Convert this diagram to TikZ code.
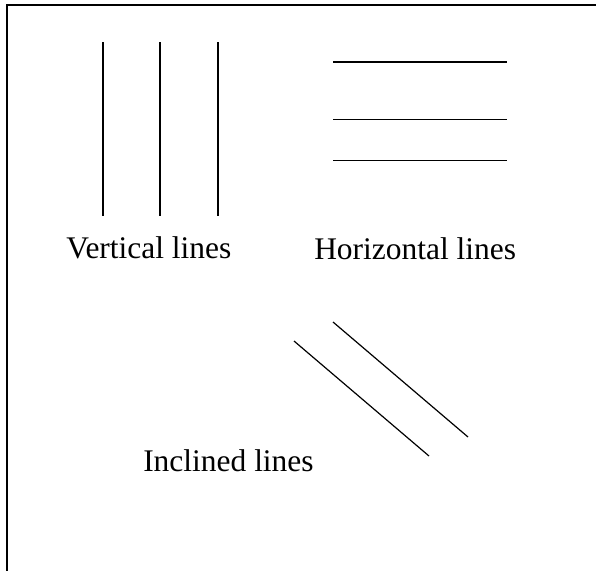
\documentclass[tikz,border=0pt]{standalone}
\usepackage{fontspec}
\setmainfont{Liberation Serif}
\usepackage{tikz}
\usetikzlibrary{positioning}
\tikzset{
  frame/.style={line width=1.5pt,color=black},
  ln/.style={line width=1.1pt,color=black},
  lcaption/.style={inner sep=0pt,anchor=base west,font=\fontsize{23.6}{28}\selectfont},
}

\begin{document}
\begin{tikzpicture}[x=0.75pt,y=-0.75pt]
    \useasboundingbox (0,0) rectangle (596,571);
    % frame, only top and left edges show
    \draw[frame] (7,571) -- (7,4.5) -- (596,4.5);
    % vertical lines
    \foreach \xx in {103,160,218}
      \draw[ln] (\xx,42) -- (\xx,215.5);
    % horizontal lines
    \foreach \yy in {62,119.5,160.5}
      \draw[ln] (333,\yy) -- (507,\yy);
    % inclined lines
    \draw[ln,line width=0.9pt] (294,341) -- (429,456);
    \draw[ln,line width=0.9pt] (333,322) -- (468,437);
    \node[lcaption] (vcap) at (66,258) {Vertical lines};
    \node[lcaption] (hcap) at (314,259) {Horizontal lines};
    \node[lcaption] (icap) at (143,471) {Inclined lines};
  \end{tikzpicture}
\end{document}
